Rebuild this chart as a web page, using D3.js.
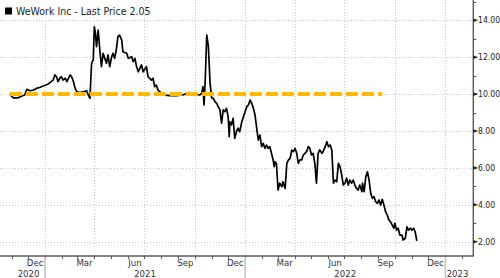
<!DOCTYPE html>
<html><head><meta charset="utf-8">
<script src="https://cdn.jsdelivr.net/npm/d3@7"></script>
<style>
html,body{margin:0;padding:0;background:#fff;}
svg{display:block;}
text{font-family:"Liberation Sans Narrow","Arial Narrow","DejaVu Sans Condensed",sans-serif;}
</style></head>
<body>
<svg id="chart" width="500" height="278"></svg>
<script>
const seriesName = "WeWork Inc - Last Price 2.05";
const dates = ["2020-10-29","2020-11-04","2020-11-13","2020-11-20","2020-11-25","2020-11-29","2020-12-05","2020-12-11","2020-12-17","2020-12-23","2020-12-29",
"2021-01-07","2021-01-16","2021-01-19","2021-01-22","2021-01-25","2021-01-28","2021-01-31","2021-02-03","2021-02-07","2021-02-10","2021-02-13","2021-02-16","2021-02-19","2021-02-22","2021-02-25","2021-02-28",
"2021-03-06","2021-03-12","2021-03-18","2021-03-21","2021-03-24","2021-03-25","2021-03-27","2021-03-30","2021-04-01","2021-04-03","2021-04-05","2021-04-08","2021-04-11","2021-04-14","2021-04-17","2021-04-20","2021-04-23","2021-04-26","2021-04-29",
"2021-05-02","2021-05-05","2021-05-08","2021-05-11","2021-05-14","2021-05-17","2021-05-21","2021-05-23","2021-05-30","2021-06-02","2021-06-08","2021-06-11","2021-06-14","2021-06-17","2021-06-20","2021-06-26","2021-06-29",
"2021-07-05","2021-07-08","2021-07-14","2021-07-17","2021-07-20","2021-07-23","2021-07-26","2021-08-02","2021-08-04","2021-08-17","2021-08-29","2021-09-09","2021-09-22","2021-09-25","2021-10-01","2021-10-10","2021-10-14","2021-10-16","2021-10-18","2021-10-20","2021-10-23","2021-10-26","2021-10-29",
"2021-11-01","2021-11-04","2021-11-07","2021-11-10","2021-11-13","2021-11-16","2021-11-19","2021-11-22","2021-11-25","2021-11-28","2021-12-01","2021-12-03","2021-12-04","2021-12-07","2021-12-10","2021-12-13","2021-12-16","2021-12-19","2021-12-22","2021-12-26","2021-12-28",
"2022-01-01","2022-01-04","2022-01-07","2022-01-10","2022-01-13","2022-01-16","2022-01-19","2022-01-22","2022-01-25","2022-01-28","2022-01-31","2022-02-03","2022-02-06","2022-02-09","2022-02-12","2022-02-15","2022-02-18","2022-02-21","2022-02-23","2022-02-24","2022-02-27",
"2022-03-02","2022-03-05","2022-03-09","2022-03-11","2022-03-15","2022-03-18","2022-03-21","2022-03-24","2022-03-27","2022-03-30","2022-04-02","2022-04-05","2022-04-08","2022-04-11","2022-04-14","2022-04-17","2022-04-20","2022-04-23","2022-04-26","2022-04-29",
"2022-05-02","2022-05-05","2022-05-08","2022-05-11","2022-05-14","2022-05-17","2022-05-21","2022-05-23","2022-05-27","2022-05-30","2022-06-02","2022-06-05","2022-06-08","2022-06-11","2022-06-14","2022-06-17","2022-06-20","2022-06-23","2022-06-26","2022-06-29",
"2022-07-02","2022-07-05","2022-07-08","2022-07-11","2022-07-14","2022-07-17","2022-07-20","2022-07-23","2022-07-26","2022-07-29","2022-08-02","2022-08-03","2022-08-06","2022-08-09","2022-08-12","2022-08-15","2022-08-18","2022-08-21","2022-08-24","2022-08-27","2022-08-30",
"2022-09-02","2022-09-05","2022-09-08","2022-09-11","2022-09-14","2022-09-17","2022-09-20","2022-09-23","2022-09-26","2022-09-29","2022-10-01","2022-10-04","2022-10-07","2022-10-10","2022-10-14","2022-10-16","2022-10-20","2022-10-23","2022-10-26","2022-10-29","2022-11-01","2022-11-04","2022-11-07","2022-11-10"];
const prices = [10.00,9.80,9.80,9.90,9.95,10.26,10.18,10.22,10.31,10.37,10.44,
10.55,10.76,11.04,10.94,10.67,10.86,10.94,10.76,10.86,10.67,10.86,11.04,10.91,10.67,10.31,10.13,
10.08,10.13,10.18,9.95,9.77,10.40,11.67,11.85,13.65,13.30,12.57,13.47,12.39,11.49,12.21,11.94,11.67,12.12,11.49,
11.94,12.21,11.94,12.39,13.11,13.20,12.93,12.30,12.21,11.94,12.03,11.76,11.94,11.49,11.21,11.58,11.21,
11.49,10.94,10.76,10.86,10.40,10.49,10.22,10.04,9.95,9.92,9.91,9.95,10.08,9.99,10.00,9.95,10.04,10.40,9.41,10.59,13.20,12.57,10.59,
9.79,9.77,9.59,9.50,9.32,9.14,8.42,9.14,9.05,9.23,8.78,7.69,8.50,8.33,8.69,7.60,7.96,8.15,7.96,8.50,8.69,
9.05,9.32,9.41,9.68,9.50,9.23,8.87,8.15,7.51,7.78,7.15,7.33,7.06,7.24,7.06,7.15,6.79,6.43,6.07,6.34,6.25,
4.80,5.17,4.98,5.25,4.89,6.25,6.43,6.52,6.97,6.88,7.06,6.79,6.25,6.43,6.43,6.70,6.79,6.88,7.15,7.06,
6.70,6.79,6.25,5.17,6.79,6.97,6.79,6.88,7.15,7.42,7.15,7.24,6.97,5.17,5.34,5.25,6.25,6.07,5.62,5.07,
5.17,5.44,5.07,5.34,5.17,5.34,5.07,4.89,4.80,5.07,4.71,5.17,4.71,5.52,5.79,5.34,4.62,4.35,4.44,4.17,4.08,
4.26,3.99,4.30,3.99,3.63,3.45,3.18,3.08,2.91,2.73,3.00,2.63,2.73,2.36,2.36,2.09,2.18,2.81,2.63,2.73,2.63,2.73,2.54,2.05];
const refLevel = 10;
const refStart = "2020-10-29";
const refEnd = "2022-09-08";
const yTicks = [2,4,6,8,10,12,14];
const yMinorTicks = [3,5,7,9,11,13,15];
const monthLabels = [["2020-12-14","Dec"],["2021-03-14","Mar"],["2021-06-14","Jun"],["2021-09-14","Sep"],["2021-12-14","Dec"],["2022-03-14","Mar"],["2022-06-14","Jun"],["2022-09-14","Sep"],["2022-12-14","Dec"]];
const yearLabels = ["2020","2021","2022","2023"];

const parse = d3.utcParse("%Y-%m-%d");
const data = dates.map((d,i)=>({date:parse(d), value:prices[i]}));

const W = 500, H = 278;
const plotRight = 473.3, plotBottom = 256;
const svg = d3.select("#chart");

const x = d3.scaleUtc().domain([Date.UTC(2020,9,11), Date.UTC(2023,1,21)]).range([0, plotRight]);
const y = d3.scaleLinear().domain([1.225, 15.10]).range([plotBottom, 0]);

// gridlines
const grid = svg.append("g").attr("stroke","#c8c8c8").attr("stroke-width",1).attr("stroke-dasharray","1,2");
yTicks.forEach(v=>{
  grid.append("line").attr("x1",0).attr("x2",plotRight).attr("y1",Math.round(y(v))+0.5).attr("y2",Math.round(y(v))+0.5);
});
const quarters = d3.utcMonth.every(3).range(x.domain()[0], x.domain()[1]);
quarters.forEach(d=>{
  const xx = Math.round(x(d))+0.5;
  grid.append("line").attr("x1",xx).attr("x2",xx).attr("y1",0).attr("y2",plotBottom);
});

// axes
const axisColor = "#5a5a5a";
svg.append("line").attr("x1",0).attr("x2",plotRight+0.7).attr("y1",plotBottom).attr("y2",plotBottom)
  .attr("stroke",axisColor).attr("stroke-width",1.4);
svg.append("line").attr("x1",plotRight).attr("x2",plotRight).attr("y1",0).attr("y2",plotBottom)
  .attr("stroke",axisColor).attr("stroke-width",1.4);

// monthly ticks
d3.utcMonth.range(x.domain()[0], x.domain()[1]).forEach(d=>{
  const xx = Math.round(x(d))+0.5;
  svg.append("line").attr("x1",xx).attr("x2",xx).attr("y1",plotBottom).attr("y2",plotBottom+3)
    .attr("stroke",axisColor).attr("stroke-width",1);
});
// year separators
d3.utcYear.range(x.domain()[0], x.domain()[1]).forEach(d=>{
  if (+d === +x.domain()[0]) return;
  const xx = x(d);
  svg.append("line").attr("x1",xx).attr("x2",xx).attr("y1",plotBottom+1).attr("y2",H)
    .attr("stroke","#c4c4c4").attr("stroke-width",1.6);
});
// month labels
svg.append("g").selectAll("text").data(monthLabels).join("text")
  .attr("x",d=>x(parse(d[0]))).attr("y",266).attr("text-anchor","middle")
  .attr("font-size",9.5).attr("fill","#333").text(d=>d[1]);
// year labels
const yearPos = {"2020":28.5,"2021":(x(Date.UTC(2021,0,1))+x(Date.UTC(2022,0,1)))/2,"2022":(x(Date.UTC(2022,0,1))+x(Date.UTC(2023,0,1)))/2,"2023":457.5};
svg.append("g").selectAll("text").data(yearLabels).join("text")
  .attr("x",d=>yearPos[d]).attr("y",276.5).attr("text-anchor","middle")
  .attr("font-size",9.5).attr("fill","#333").text(d=>d);

// y ticks
const yt = svg.append("g");
yTicks.forEach(v=>{
  const yy = y(v);
  yt.append("path").attr("d",`M${plotRight},${yy-1.8}L${plotRight+5},${yy}L${plotRight},${yy+1.8}Z`).attr("fill","#222");
  yt.append("text").attr("x",478).attr("y",yy+3.1).attr("font-size",8.6).attr("fill","#222").text(d3.format(".2f")(v));
});
yMinorTicks.forEach(v=>{
  const yy = Math.round(y(v))+0.5;
  if (yy < 0) return;
  yt.append("line").attr("x1",plotRight).attr("x2",plotRight+3).attr("y1",yy).attr("y2",yy).attr("stroke",axisColor).attr("stroke-width",1);
});

// legend background
svg.append("rect").attr("x",0).attr("y",0).attr("width",130).attr("height",19.5).attr("fill","#fff");

// price line
const line = d3.line().x(d=>x(d.date)).y(d=>y(d.value));
svg.append("path").datum(data).attr("d",line).attr("fill","none").attr("stroke","#000").attr("stroke-width",1.7).attr("stroke-linejoin","round");

// reference line
svg.append("line").attr("x1",x(parse(refStart))).attr("x2",x(parse(refEnd)))
  .attr("y1",y(refLevel)).attr("y2",y(refLevel))
  .attr("stroke","#ffb900").attr("stroke-width",4).attr("stroke-dasharray","12,4");

// legend
svg.append("rect").attr("x",5).attr("y",7.5).attr("width",7).attr("height",7).attr("fill","#000");
svg.append("text").attr("x",16).attr("y",14.5).attr("font-size",10.5).attr("fill","#222").text(seriesName);
</script>
</body></html>
